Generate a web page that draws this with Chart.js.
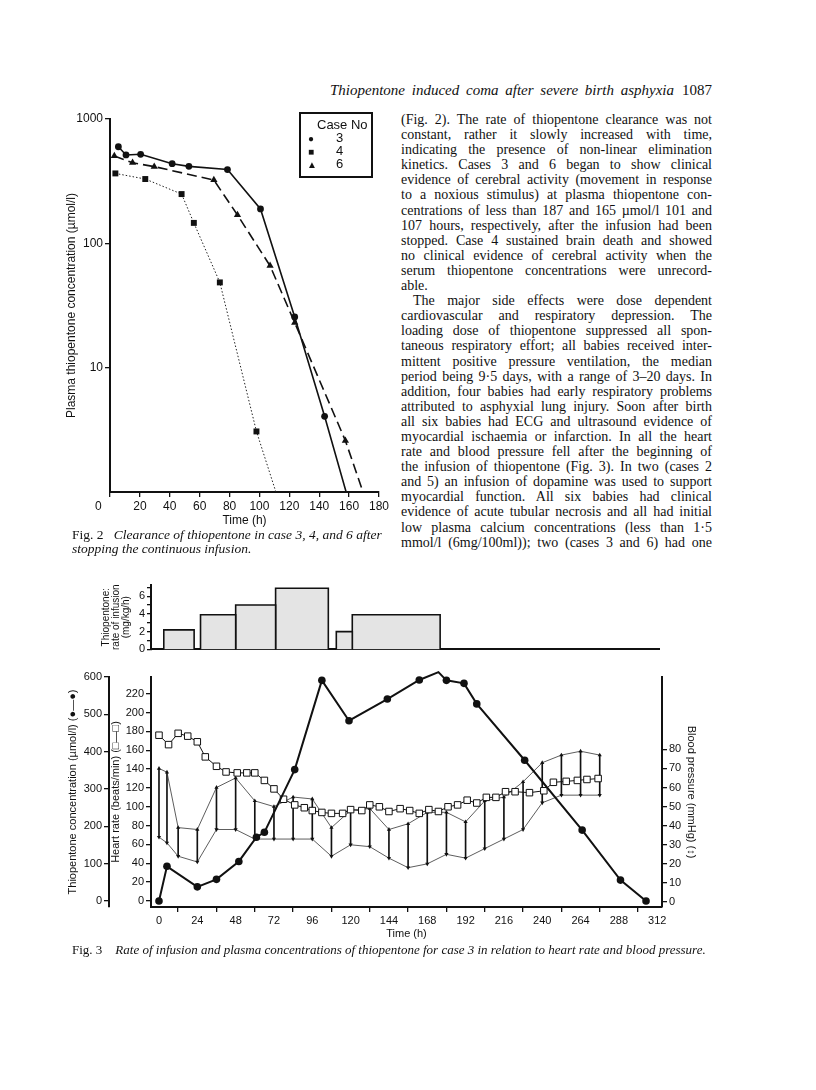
<!DOCTYPE html>
<html>
<head>
<meta charset="utf-8">
<script src="https://cdn.jsdelivr.net/npm/chart.js@4.4.1/dist/chart.umd.min.js"></script>
<style>
  html, body { margin: 0; padding: 0; background: #fff; }
  body { width: 816px; height: 1090px; position: relative; overflow: hidden; font-family: 'Liberation Serif', 'Times New Roman', serif; color: #111; }
  canvas { position: absolute; left: 0; }
  .abs { position: absolute; white-space: nowrap; }
  .body-text { position: absolute; left: 401px; top: 112px; width: 311px; font-size: 14px; line-height: 15.1px; }
  .body-text div { text-align: justify; text-align-last: justify; white-space: nowrap; overflow: visible; }
  .body-text div.last { text-align-last: left; }
  .body-text div.ind { padding-left: 12px; }
  .cap { font-size: 13.5px; }
  .cap i { font-style: italic; }
  .legend { position: absolute; left: 299px; top: 112px; width: 70px; height: 62px; border: 2px solid #111; font-family: 'Liberation Sans', sans-serif; font-size: 13px; }
  .legend div { position: absolute; white-space: nowrap; }
  .legend .mk { font-size: 10px; }
</style>
</head>
<body>

<div class="abs" style="left:330px; top:82px; font-size:15px; font-style:italic; word-spacing:3px;">Thiopentone induced coma after severe birth asphyxia</div>
<div class="abs" style="left:682px; top:82px; font-size:15px;">1087</div>

<div class="body-text">
  <div>(Fig. 2). The rate of thiopentone clearance was not</div>
  <div>constant, rather it slowly increased with time,</div>
  <div>indicating the presence of non-linear elimination</div>
  <div>kinetics. Cases 3 and 6 began to show clinical</div>
  <div>evidence of cerebral activity (movement in response</div>
  <div>to a noxious stimulus) at plasma thiopentone con-</div>
  <div>centrations of less than 187 and 165 µmol/l 101 and</div>
  <div>107 hours, respectively, after the infusion had been</div>
  <div>stopped. Case 4 sustained brain death and showed</div>
  <div>no clinical evidence of cerebral activity when the</div>
  <div>serum thiopentone concentrations were unrecord-</div>
  <div class="last">able.</div>
  <div class="ind">The major side effects were dose dependent</div>
  <div>cardiovascular and respiratory depression. The</div>
  <div>loading dose of thiopentone suppressed all spon-</div>
  <div>taneous respiratory effort; all babies received inter-</div>
  <div>mittent positive pressure ventilation, the median</div>
  <div>period being 9·5 days, with a range of 3–20 days. In</div>
  <div>addition, four babies had early respiratory problems</div>
  <div>attributed to asphyxial lung injury. Soon after birth</div>
  <div>all six babies had ECG and ultrasound evidence of</div>
  <div>myocardial ischaemia or infarction. In all the heart</div>
  <div>rate and blood pressure fell after the beginning of</div>
  <div>the infusion of thiopentone (Fig. 3). In two (cases 2</div>
  <div>and 5) an infusion of dopamine was used to support</div>
  <div>myocardial function. All six babies had clinical</div>
  <div>evidence of acute tubular necrosis and all had initial</div>
  <div>low plasma calcium concentrations (less than 1·5</div>
  <div>mmol/l (6mg/100ml)); two (cases 3 and 6) had one</div>
</div>

<canvas id="fig2" width="400" height="430" style="top:100px"></canvas>
<div class="legend">
  <div style="left:16px; top:3px;">Case No</div>
  <div class="mk" style="left:7px; top:19px;">●</div><div style="left:35px; top:16px;">3</div>
  <div class="mk" style="left:7px; top:32px;">■</div><div style="left:35px; top:29px;">4</div>
  <div class="mk" style="left:6px; top:45px;">▲</div><div style="left:35px; top:42px;">6</div>
</div>
<div class="abs" style="left:95px; top:499px; font-family:'Liberation Sans', sans-serif; font-size:12px;">0</div>

<div class="abs cap" style="left:72px; top:527px;">Fig. 2 &nbsp;&nbsp;<i>Clearance of thiopentone in case 3, 4, and 6 after</i></div>
<div class="abs cap" style="left:72px; top:541px;"><i>stopping the continuous infusion.</i></div>

<canvas id="fig3top" width="816" height="83" style="top:575px"></canvas>
<canvas id="fig3" width="816" height="302" style="top:640px"></canvas>

<div class="abs cap" style="left:72px; top:942px; font-size:13px;">Fig. 3 &nbsp;&nbsp;&nbsp;<i>Rate of infusion and plasma concentrations of thiopentone for case 3 in relation to heart rate and blood pressure.</i></div>

<script>
// ---- Fig 2: clearance (log scale) ----
const CASE3_H = [5.6, 10.7, 20.5, 41.6, 52.8, 78.6, 100.7, 123.6, 143.6, 158];
const CASE3_C = [598, 514, 520, 437, 416, 392, 189, 25.6, 4.06, 1];
const CASE4_H = [3.6, 23.6, 47.9, 56.1, 73.5, 98, 111];
const CASE4_C = [365, 329, 249, 146, 48.5, 3.07, 1];
const CASE6_H = [2.9, 15.1, 29.6, 69.5, 85.3, 107.1, 123.6, 157.5, 169.3];
const CASE6_C = [504, 445, 414, 323, 169, 66, 23, 2.59, 1];
const FIG2_X_TICKS = [0, 20, 40, 60, 80, 100, 120, 140, 160, 180];
const FIG2_Y_TICKS = [10, 100, 1000];

// ---- Fig 3: infusion rate boxes ----
const INF_START = [3, 26, 48, 73, 111, 121];
const INF_END = [22, 48, 73, 106, 121, 176];
const INF_RATE = [2.2, 3.9, 5, 6.9, 2, 3.9];
const INF_TICKS = [0, 1, 2, 3, 4, 5, 6, 7];

// ---- Fig 3: concentration, heart rate, blood pressure ----
const CONC_H = [0, 5, 24, 36, 50, 61, 66, 85, 102, 119, 143, 163, 175, 180, 191, 199, 229, 265, 289, 305];
const CONC = [0, 93, 38, 58, 106, 171, 184, 352, 591, 483, 541, 592, 613, 591, 583, 528, 377, 190, 56, 0];
const HR_H = [0, 6, 12, 18, 24, 29, 36, 42, 49, 55, 60, 66, 72, 78, 85, 91, 96, 102, 108, 115, 120, 127, 132, 138, 144, 151, 157, 163, 169, 175, 181, 187, 193, 199, 205, 211, 217, 223, 232, 241, 247, 255, 262, 268, 275];
const HR = [176, 166, 178, 175, 169, 153, 143, 137, 136, 136, 136, 128, 119, 108, 102, 99, 96, 94, 93, 93, 97, 96, 102, 100, 95, 98, 96, 93, 97, 95, 100, 102, 107, 104, 110, 110, 116, 116, 115, 117, 126, 127, 128, 129, 130];
const BP_H = [0, 5, 12, 24, 36, 48, 60, 72, 84, 96, 108, 120, 132, 144, 156, 168, 180, 192, 204, 216, 228, 240, 252, 264, 276];
const BP_SYS = [70, 68, 39, 38, 60, 65, 53, 50, 55, 54, 39, 48, 49, 38, 41, 47, 47, 42, 53, 55, 63, 73, 77, 79, 77];
const BP_DIA = [34, 31, 24, 21, 38, 38, 33, 33, 33, 33, 24, 30, 29, 23, 18, 20, 25, 23, 28, 33, 38, 52, 56, 56, 56];
const TIME3_TICKS = [0, 24, 48, 72, 96, 120, 144, 168, 192, 216, 240, 264, 288, 312];
const CONC_TICKS = [0, 100, 200, 300, 400, 500, 600];
const HR_TICKS = [0, 20, 40, 60, 80, 100, 120, 140, 160, 180, 200, 220];
const BP_TICKS = [0, 10, 20, 30, 40, 50, 60, 70, 80];

Chart.defaults.font.family = "'Liberation Sans', 'DejaVu Sans', sans-serif";
Chart.defaults.color = '#111';
Chart.defaults.animation = false;
Chart.defaults.plugins.legend.display = false;
Chart.defaults.plugins.tooltip.enabled = false;

const pts = (xs, ys) => xs.map((x, i) => ({ x, y: ys[i] }));
const setTicks = (list) => (s) => { s.ticks = list.map((v) => ({ value: v })); };
const fixW = (w) => (s) => { s.width = w; };
const fixH = (h) => (s) => { s.height = h; };
const axisGrid = { drawOnChartArea: false, color: '#111', tickLength: 5, lineWidth: 1.3 };
const axisBorder = { color: '#111', width: 2 };
// markers on every point except the last one, where the line leaves the plot
const markerSizes = (arr, r) => arr.map((_, i) => (i === arr.length - 1 ? 0 : r));

new Chart(document.getElementById('fig2'), {
  type: 'line',
  data: {
    datasets: [
      { data: pts(CASE3_H, CASE3_C), borderColor: '#111', borderWidth: 1.6, pointStyle: 'circle', pointRadius: markerSizes(CASE3_H, 3.4), pointBackgroundColor: '#111', pointBorderWidth: 0 },
      { data: pts(CASE4_H, CASE4_C), borderColor: '#222', borderWidth: 1, borderDash: [1.5, 2], pointStyle: 'rect', pointRadius: markerSizes(CASE4_H, 4.2), pointBackgroundColor: '#111', pointBorderWidth: 0 },
      { data: pts(CASE6_H, CASE6_C), borderColor: '#111', borderWidth: 1.6, borderDash: [10, 5], pointStyle: 'triangle', pointRadius: markerSizes(CASE6_H, 4.2), pointBackgroundColor: '#111', pointBorderWidth: 0 }
    ]
  },
  options: {
    responsive: false,
    layout: { padding: { left: 64, top: 19, right: 21, bottom: 0 } },
    scales: {
      x: {
        type: 'linear', min: 0, max: 180,
        afterBuildTicks: setTicks(FIG2_X_TICKS), afterFit: fixH(38),
        ticks: { callback: (v) => (v === 0 ? '' : String(v)), font: { size: 12 }, padding: 2, maxRotation: 0 },
        grid: axisGrid, border: axisBorder,
        title: { display: true, text: 'Time (h)', font: { size: 12 }, padding: { top: 0, bottom: 2 } }
      },
      y: {
        type: 'logarithmic', min: 1, max: 1000,
        afterBuildTicks: setTicks(FIG2_Y_TICKS), afterFit: fixW(46),
        ticks: { callback: (v) => String(v), font: { size: 12 }, padding: 2 },
        grid: axisGrid, border: axisBorder,
        title: { display: true, text: 'Plasma thiopentone concentration (µmol/l)', font: { size: 12 }, padding: { top: 0, bottom: 4 } }
      }
    }
  }
});

// infusion boxes: one closed outline per period, filled down to zero
const boxDatasets = INF_START.map((s, i) => ({
  data: [{ x: s, y: 0 }, { x: s, y: INF_RATE[i] }, { x: INF_END[i], y: INF_RATE[i] }, { x: INF_END[i], y: 0 }],
  borderColor: '#111', borderWidth: 1.6, backgroundColor: '#e4e4e4', fill: 'origin', pointRadius: 0, tension: 0
}));

new Chart(document.getElementById('fig3top'), {
  type: 'line',
  data: { datasets: boxDatasets },
  options: {
    responsive: false,
    layout: { padding: { left: 101, top: 10, right: 157, bottom: 0 } },
    scales: {
      x: { type: 'linear', min: -5, max: 313, afterFit: fixH(2), ticks: { display: false }, grid: { display: false }, border: axisBorder },
      y: {
        min: 0, max: 7.26,
        afterBuildTicks: setTicks(INF_TICKS), afterFit: fixW(50),
        ticks: { callback: (v) => (v % 2 === 0 ? String(v) : ''), font: { size: 11 }, padding: 2, autoSkip: false },
        grid: { drawOnChartArea: false, color: '#111', tickLength: 4, lineWidth: 1.3 }, border: axisBorder,
        title: { display: true, text: ['Thiopentone:', 'rate of infusion', '(mg/kg/h)'], font: { size: 10, lineHeight: 1.0 }, padding: { top: 0, bottom: 2 } }
      }
    }
  }
});

new Chart(document.getElementById('fig3'), {
  type: 'line',
  data: {
    datasets: [
      { yAxisID: 'conc', clip: false, data: pts(CONC_H, CONC), borderColor: '#111', borderWidth: 2, pointStyle: 'circle', pointRadius: 3.8, pointBackgroundColor: '#111', pointBorderWidth: 0 },
      { yAxisID: 'hr', data: pts(HR_H, HR), borderColor: '#111', borderWidth: 1, pointStyle: 'rect', pointRadius: 4.6, pointBackgroundColor: '#fff', pointBorderColor: '#111', pointBorderWidth: 1 },
      { yAxisID: 'bp', data: pts(BP_H, BP_SYS), borderColor: '#333', borderWidth: 0.8, pointStyle: 'triangle', pointRadius: 2.4, pointBackgroundColor: '#111', pointBorderWidth: 0 },
      { yAxisID: 'bp', data: pts(BP_H, BP_DIA), borderColor: '#333', borderWidth: 0.8, pointStyle: 'triangle', pointRotation: 180, pointRadius: 2.4, pointBackgroundColor: '#111', pointBorderWidth: 0 },
      { type: 'bar', yAxisID: 'bp', data: BP_H.map((h, i) => ({ x: h, y: [BP_DIA[i], BP_SYS[i]] })), backgroundColor: '#111', barThickness: 1 }
    ]
  },
  options: {
    responsive: false,
    layout: { padding: { left: 66, top: 37, right: 118, bottom: 0 } },
    scales: {
      x: {
        type: 'linear', min: -5, max: 315, offset: false,
        afterBuildTicks: setTicks(TIME3_TICKS), afterFit: fixH(35),
        ticks: { callback: (v) => String(v), font: { size: 11 }, padding: 2, maxRotation: 0, autoSkip: false },
        grid: axisGrid, border: axisBorder,
        title: { display: true, text: 'Time (h)', font: { size: 11 }, padding: { top: 0, bottom: 1 } }
      },
      hr: {
        position: 'left', weight: 0, min: -6.4, max: 237.8,
        afterBuildTicks: setTicks(HR_TICKS), afterFit: fixW(42),
        ticks: { callback: (v) => String(v), font: { size: 11 }, padding: 2 },
        grid: axisGrid, border: axisBorder,
        title: { display: true, text: 'Heart rate (beats/min) (□—□)', font: { size: 11 }, padding: { top: 0, bottom: 2 } }
      },
      conc: {
        position: 'left', weight: 1, min: -16, max: 600,
        afterBuildTicks: setTicks(CONC_TICKS), afterFit: fixW(43),
        ticks: { callback: (v) => String(v), font: { size: 11 }, padding: 2 },
        grid: axisGrid, border: axisBorder,
        title: { display: true, text: 'Thiopentone concentration (µmol/l) (●—●)', font: { size: 11 }, padding: { top: 0, bottom: 2 } }
      },
      bp: {
        position: 'right', min: -2.6, max: 117.9,
        afterBuildTicks: setTicks(BP_TICKS), afterFit: fixW(36),
        ticks: { callback: (v) => String(v), font: { size: 11 }, padding: 2 },
        grid: axisGrid, border: axisBorder,
        title: { display: true, text: 'Blood pressure (mmHg) (↕)', font: { size: 11 }, padding: { top: 0, bottom: 2 } }
      }
    }
  }
});
</script>
</body>
</html>
